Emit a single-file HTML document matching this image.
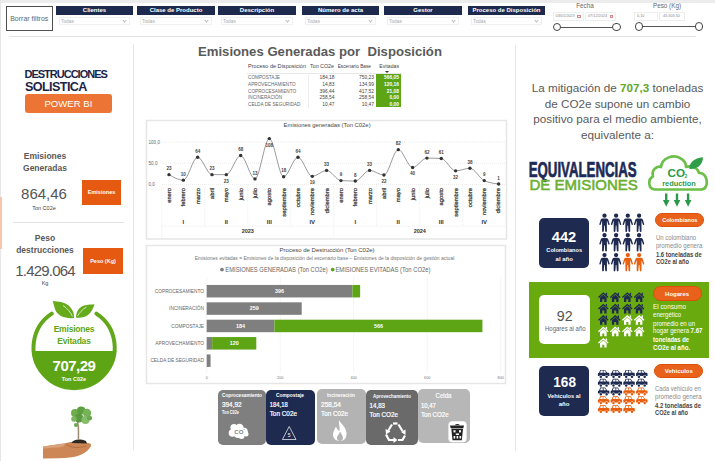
<!DOCTYPE html>
<html><head><meta charset="utf-8">
<style>
*{margin:0;padding:0;box-sizing:border-box}
html,body{width:715px;height:461px;overflow:hidden;background:#fff;font-family:"Liberation Sans",sans-serif}
.a{position:absolute}
#frameT{left:0;top:0;width:715px;height:2.5px;background:#ececec}
#frameL{left:0;top:0;width:1px;height:461px;background:#e6e6e6}
.btn{left:6px;top:6px;width:46.5px;height:25px;border:1.6px solid #505050;font-size:7px;color:#666;text-align:center;line-height:23.5px;white-space:nowrap}
.hdr{height:9px;background:#1d2a4e;color:#fff;font-size:6px;font-weight:bold;text-align:center;line-height:9px;white-space:nowrap;overflow:hidden}
.dd{height:8px;border:1px solid #f0f0f0;font-size:4.8px;color:#aaa;line-height:8px;padding-left:1px}
.dd i{position:absolute;right:3px;top:1px;width:3px;height:3px;border-right:1px solid #bbb;border-bottom:1px solid #bbb;transform:rotate(45deg)}
.hline{height:1px;background:#e3e3e3}
.vline{width:1px;background:#e6e6e6}
</style></head><body>
<div class="a" id="frameT"></div>
<div class="a" id="frameL"></div>
<div class="a" style="left:0;top:196.5px;width:1.5px;height:52px;background:#f7c4ae"></div>

<!-- top bar -->
<div class="a btn">Borrar filtros</div>
<div class="a hdr" style="left:56px;top:6px;width:77px">Clientes</div>
<div class="a dd" style="left:59px;top:17px;width:71px">Todas<i></i></div>
<div class="a hdr" style="left:137px;top:6px;width:78px">Clase de Producto</div>
<div class="a dd" style="left:140px;top:17px;width:72px">Todas<i></i></div>
<div class="a hdr" style="left:218px;top:6px;width:78px">Descripción</div>
<div class="a dd" style="left:221px;top:17px;width:72px">Todas<i></i></div>
<div class="a hdr" style="left:302px;top:6px;width:77px">Número de acta</div>
<div class="a dd" style="left:305px;top:17px;width:71px">Todas<i></i></div>
<div class="a hdr" style="left:384px;top:6px;width:78px">Gestor</div>
<div class="a dd" style="left:387px;top:17px;width:72px">Todas<i></i></div>
<div class="a hdr" style="left:468px;top:6px;width:77px">Proceso de Disposición</div>
<div class="a dd" style="left:471px;top:17px;width:71px">Todas<i></i></div>

<!--SLIC-->
<div class="a" style="left:570px;top:2px;width:30px;text-align:center;font-size:6.3px;color:#666">Fecha</div>
<div class="a" style="left:552.6px;top:12px;width:31.4px;height:9px;border:1px solid #eee;font-size:3.8px;color:#888;line-height:7px;padding-left:2px">03/01/2023<span style="position:absolute;right:2px;top:1.5px;width:3.5px;height:3.5px;border:0.8px solid #d88;border-top-width:1.4px"></span></div>
<div class="a" style="left:585px;top:12px;width:31.4px;height:9px;border:1px solid #eee;font-size:3.8px;color:#888;line-height:7px;padding-left:2px">07/12/2024<span style="position:absolute;right:2px;top:1.5px;width:3.5px;height:3.5px;border:0.8px solid #d88;border-top-width:1.4px"></span></div>
<div class="a" style="left:557px;top:26.5px;width:59px;height:1px;background:#555"></div>
<div class="a" style="left:552.5px;top:22.5px;width:8.5px;height:8.5px;border:1.2px solid #444;border-radius:50%;background:#fff"></div>
<div class="a" style="left:612px;top:22.5px;width:8.5px;height:8.5px;border:1.2px solid #444;border-radius:50%;background:#fff"></div>
<div class="a" style="left:652px;top:2px;width:30px;text-align:center;font-size:6.3px;color:#666;white-space:nowrap">Peso (Kg)</div>
<div class="a" style="left:634px;top:11.5px;width:24px;height:9px;border:1px solid #eee;font-size:3.8px;color:#888;line-height:7px;padding-left:2px">0,10</div>
<div class="a" style="left:659px;top:11.5px;width:25.5px;height:9px;border:1px solid #eee;font-size:3.8px;color:#888;line-height:7px;padding-left:3px">43.303,50</div>
<div class="a" style="left:639px;top:26px;width:60px;height:1px;background:#555"></div>
<div class="a" style="left:634.8px;top:22px;width:8.5px;height:8.5px;border:1.2px solid #444;border-radius:50%;background:#fff"></div>
<div class="a" style="left:694.5px;top:22px;width:8.5px;height:8.5px;border:1.2px solid #444;border-radius:50%;background:#fff"></div>
<!--/SLIC-->

<div class="a hline" style="left:9px;top:36px;width:687px"></div>
<div class="a vline" style="left:133px;top:44px;height:406px"></div>
<div class="a vline" style="left:515px;top:45px;height:406px"></div>


<!-- left panel -->
<div class="a" style="left:24.5px;top:68px;font-size:11px;font-weight:bold;color:#1b2548;letter-spacing:-1px;white-space:nowrap">DESTRUCCIONES</div>
<div class="a" style="left:25px;top:79.8px;font-size:12.6px;font-weight:bold;color:#1b2548;letter-spacing:-0.6px;white-space:nowrap">SOLISTICA</div>
<div class="a" style="left:25px;top:93.8px;width:86.8px;height:18.8px;background:#ec7535;border-radius:3px;color:#fff;font-size:9.6px;text-align:center;line-height:19px">POWER BI</div>

<div class="a" style="left:0;top:150px;width:90px;text-align:center;font-size:8.5px;font-weight:bold;color:#595959;line-height:12px">Emisiones<br>Generadas</div>
<div class="a" style="left:0;top:185px;width:88px;text-align:center;font-size:15px;color:#555;line-height:17px">864,46</div>
<div class="a" style="left:0;top:204.5px;width:88px;text-align:center;font-size:5.5px;color:#444">Ton C02e</div>
<div class="a" style="left:82px;top:180px;width:39px;height:25px;background:#e55a10;color:#fff;font-size:5.5px;font-weight:bold;text-align:center;line-height:25px">Emisiones</div>
<div class="a hline" style="left:13px;top:222px;width:111px"></div>
<div class="a" style="left:0;top:232px;width:90px;text-align:center;font-size:8.5px;font-weight:bold;color:#595959;line-height:12px">Peso<br>destrucciones</div>
<div class="a" style="left:0;top:262px;width:90px;text-align:center;font-size:15px;color:#555;line-height:17px;letter-spacing:-0.8px">1.429.064</div>
<div class="a" style="left:0;top:280px;width:90px;text-align:center;font-size:5.5px;color:#444">Kg</div>
<div class="a" style="left:83px;top:248px;width:40px;height:26px;background:#e55a10;color:#fff;font-size:5.5px;font-weight:bold;text-align:center;line-height:26px">Peso (Kg)</div>

<svg class="a" style="left:0;top:290px" width="133" height="171" viewBox="0 290 133 171">
 <defs><clipPath id="cc"><circle cx="74.1" cy="346.4" r="42.6"/></clipPath></defs>
 <path d="M51.8 313.6 A40.6 40.6 0 1 0 96.4 313.6" fill="none" stroke="#62a81a" stroke-width="4" stroke-linecap="round"/>
 <rect x="25" y="351" width="100" height="45" fill="#5ea516" clip-path="url(#cc)"/>
 <path d="M74 318 C66 319 57 316 55 309 C54 306 53.5 303 52.6 301 C58 301.5 66 302 70 307 C73 310 74.5 314 74 318 Z" fill="#66ab1c"/>
 <path d="M76 317.5 C76 312 79 307 84 305.5 C88 304.3 92 304.5 94.6 304.2 C93.5 307 92 312 88 315 C85 317.5 80 318 76 317.5 Z" fill="#66ab1c"/>
 <path d="M63 305.5 C67 308 70.5 312 72.5 316.5" stroke="#fff" stroke-width="0.7" fill="none"/>
 <path d="M86.5 307 C82 309.5 79.5 313 77.5 316" stroke="#fff" stroke-width="0.7" fill="none"/>
 <!-- tree in hand -->
 <g id="tree">
  <path d="M43 446.5 C50 445.5 57 444.5 64 443.5 C69 441.5 75 441.5 80 442.8 L88 443 C91.5 443.3 92 445.5 90 447.5 C87.5 451.5 82 455 76 456.5 C70 457.5 65 458 59 458.2 L43 458.5 Z" fill="#cd8757"/>
  <path d="M43 446.5 C50 445.5 57 444.5 64 443.5 C66 445 64 447 58 447.5 L43 448.5Z" fill="#d9a07a"/>
  <path d="M66 444 C70 447 76 449 86 446" stroke="#a9643a" stroke-width="0.8" fill="none"/>
  <path d="M71.5 443 C73 439.5 79 438.5 86 441 L87 443.5 Z" fill="#2e2722"/>
  <circle cx="83" cy="409" r="2" fill="#8cc070"/><circle cx="76" cy="425" r="2" fill="#6aa84d"/>
  <path d="M78.5 440 C78 434 79.5 430 77.5 421" stroke="#9c8a70" stroke-width="1.5" fill="none"/>
  <circle cx="75" cy="413" r="4" fill="#6fae4e"/>
  <circle cx="81" cy="410.5" r="4" fill="#5c9e40"/>
  <circle cx="87" cy="413" r="4.2" fill="#74b356"/>
  <circle cx="79" cy="418" r="4.5" fill="#5a9a3e"/>
  <circle cx="85.5" cy="420" r="4" fill="#86bd6a"/>
  <circle cx="74" cy="419" r="2.8" fill="#7cb560"/>
  <circle cx="89.5" cy="418" r="2.5" fill="#6aa84d"/>
 </g>
</svg>
<div class="a" style="left:34px;top:324px;width:80px;text-align:center;font-size:8.5px;font-weight:bold;color:#5ea516;line-height:11.5px;letter-spacing:-0.2px">Emisiones<br>Evitadas</div>
<div class="a" style="left:34px;top:357px;width:80px;text-align:center;font-size:15px;font-weight:bold;color:#fff;line-height:17px;letter-spacing:-0.5px">707,29</div>
<div class="a" style="left:34px;top:376px;width:80px;text-align:center;font-size:5.5px;font-weight:bold;color:#fff">Ton C02e</div>

<!-- center title & table -->
<div class="a" style="left:198px;top:43.7px;font-size:13.15px;font-weight:bold;color:#5a5a5a;white-space:pre">Emisiones Generadas por  Disposición</div>
<!--TABLE-->
<div class="a" style="left:385px;top:70.5px;width:0;height:0;border-left:2px solid transparent;border-right:2px solid transparent;border-top:2px solid #333"></div>
<div class="a" style="left:247px;top:72.5px;width:155px;height:1px;background:#e8e8e8"></div>
<div class="a" style="left:308px;top:73px;width:1px;height:35px;background:#eee"></div>
<div class="a" style="left:376px;top:73.8px;width:25.2px;height:33.6px;background:#5ea516"></div>
<svg class="a" style="left:0;top:0" width="715" height="461" viewBox="0 0 715 461" font-family="Liberation Sans">
 <text x="248" y="68" font-size="5.6" fill="#444" textLength="58" lengthAdjust="spacingAndGlyphs">Proceso de Disposición</text>
 <text x="310" y="68" font-size="5.6" fill="#444" textLength="24" lengthAdjust="spacingAndGlyphs">Ton CO2e</text>
 <text x="337.7" y="68" font-size="5.6" fill="#444" textLength="33.3" lengthAdjust="spacingAndGlyphs">Escenario Base</text>
 <text x="379.3" y="68" font-size="5.6" fill="#444" textLength="19.7" lengthAdjust="spacingAndGlyphs">Evitadas</text>
</svg>
<div class="a" style="left:248px;top:75.30px;width:151px;height:6.65px;line-height:6.65px;font-size:4.7px;color:#666;white-space:nowrap">COMPOSTAJE<span style="position:absolute;right:64.5px;color:#444;font-size:4.9px">184,18</span><span style="position:absolute;right:25px;color:#444;font-size:4.9px">750,23</span><span style="position:absolute;right:0;color:#fff;font-weight:bold;font-size:4.9px">566,05</span></div>
<div class="a" style="left:248px;top:81.95px;width:151px;height:6.65px;line-height:6.65px;font-size:4.7px;color:#666;white-space:nowrap">APROVECHAMIENTO<span style="position:absolute;right:64.5px;color:#444;font-size:4.9px">14,83</span><span style="position:absolute;right:25px;color:#444;font-size:4.9px">134,99</span><span style="position:absolute;right:0;color:#fff;font-weight:bold;font-size:4.9px">120,16</span></div>
<div class="a" style="left:248px;top:88.60px;width:151px;height:6.65px;line-height:6.65px;font-size:4.7px;color:#666;white-space:nowrap">COPROCESAMIENTO<span style="position:absolute;right:64.5px;color:#444;font-size:4.9px">396,44</span><span style="position:absolute;right:25px;color:#444;font-size:4.9px">417,52</span><span style="position:absolute;right:0;color:#fff;font-weight:bold;font-size:4.9px">21,08</span></div>
<div class="a" style="left:248px;top:95.25px;width:151px;height:6.65px;line-height:6.65px;font-size:4.7px;color:#666;white-space:nowrap">INCINERACIÓN<span style="position:absolute;right:64.5px;color:#444;font-size:4.9px">258,54</span><span style="position:absolute;right:25px;color:#444;font-size:4.9px">258,54</span><span style="position:absolute;right:0;color:#fff;font-weight:bold;font-size:4.9px">0,00</span></div>
<div class="a" style="left:248px;top:101.90px;width:151px;height:6.65px;line-height:6.65px;font-size:4.7px;color:#666;white-space:nowrap">CELDA DE SEGURIDAD<span style="position:absolute;right:64.5px;color:#444;font-size:4.9px">10,47</span><span style="position:absolute;right:25px;color:#444;font-size:4.9px">10,47</span><span style="position:absolute;right:0;color:#fff;font-weight:bold;font-size:4.9px">0,00</span></div>
<!--/TABLE-->
<!--LINE--><svg class="a" style="left:0;top:0" width="715" height="461" viewBox="0 0 715 461" font-family="Liberation Sans">
<rect x="146.5" y="120.5" width="360" height="118.5" fill="#fff" stroke="#e6e6e6" stroke-width="1.5"/>
<text x="283.6" y="127.3" font-size="5.8" fill="#444" textLength="87" lengthAdjust="spacingAndGlyphs">Emisiones generadas (Ton C02e)</text>
<line x1="162" y1="142.00" x2="505" y2="142.00" stroke="#d8d8d8" stroke-width="0.5" stroke-dasharray="1 1"/>
<text x="148.5" y="143.80" font-size="4.6" fill="#666">100,0</text>
<line x1="162" y1="163.20" x2="505" y2="163.20" stroke="#d8d8d8" stroke-width="0.5" stroke-dasharray="1 1"/>
<text x="148.5" y="165.00" font-size="4.6" fill="#666">50,0</text>
<line x1="162" y1="184.40" x2="505" y2="184.40" stroke="#d8d8d8" stroke-width="0.5" stroke-dasharray="1 1"/>
<text x="148.5" y="186.20" font-size="4.6" fill="#666">0,0</text>
<line x1="161.8" y1="184.4" x2="161.8" y2="238" stroke="#d8d8d8" stroke-width="0.5" stroke-dasharray="1 1"/>
<line x1="204.82" y1="184.4" x2="204.82" y2="226.2" stroke="#d8d8d8" stroke-width="0.5" stroke-dasharray="1 1"/>
<line x1="247.81" y1="184.4" x2="247.81" y2="226.2" stroke="#d8d8d8" stroke-width="0.5" stroke-dasharray="1 1"/>
<line x1="290.81" y1="184.4" x2="290.81" y2="226.2" stroke="#d8d8d8" stroke-width="0.5" stroke-dasharray="1 1"/>
<line x1="333.79" y1="184.4" x2="333.79" y2="238" stroke="#d8d8d8" stroke-width="0.5" stroke-dasharray="1 1"/>
<line x1="376.78" y1="184.4" x2="376.78" y2="226.2" stroke="#d8d8d8" stroke-width="0.5" stroke-dasharray="1 1"/>
<line x1="419.77" y1="184.4" x2="419.77" y2="226.2" stroke="#d8d8d8" stroke-width="0.5" stroke-dasharray="1 1"/>
<line x1="462.76" y1="184.4" x2="462.76" y2="226.2" stroke="#d8d8d8" stroke-width="0.5" stroke-dasharray="1 1"/>
<line x1="161.8" y1="226.2" x2="505" y2="226.2" stroke="#d8d8d8" stroke-width="0.5" stroke-dasharray="1 1"/>
<path d="M169.00 174.65 C173.78 177.40 178.55 180.16 183.33 180.16 C188.11 180.16 192.88 157.26 197.66 157.26 C202.44 157.26 207.21 174.65 211.99 174.65 C216.77 174.65 221.54 174.65 226.32 174.65 C231.10 174.65 235.87 155.57 240.65 155.57 C245.43 155.57 250.20 178.89 254.98 178.89 C259.76 178.89 264.53 138.61 269.31 138.61 C274.09 138.61 278.86 176.77 283.64 176.77 C288.42 176.77 293.19 157.26 297.97 157.26 C302.75 157.26 307.52 176.34 312.30 176.34 C317.08 176.34 321.85 170.41 326.63 170.41 C331.41 170.41 336.18 180.30 340.96 180.58 C345.74 180.87 350.51 181.01 355.29 181.01 C360.07 181.01 364.84 170.41 369.62 170.41 C374.40 170.41 379.17 175.07 383.95 175.07 C388.73 175.07 393.50 149.63 398.28 149.63 C403.06 149.63 407.83 167.44 412.61 167.44 C417.39 167.44 422.16 158.11 426.94 158.11 C431.72 158.11 436.49 158.25 441.27 158.54 C446.05 158.82 450.82 170.83 455.60 170.83 C460.38 170.83 465.15 168.29 469.93 168.29 C474.71 168.29 479.48 178.32 484.26 180.58 C489.04 182.85 493.81 183.41 498.59 183.98" fill="none" stroke="#555" stroke-width="0.6"/>
<circle cx="169.00" cy="174.65" r="1.7" fill="#333"/>
<text x="169.00" y="170.35" font-size="4.5" font-weight="bold" fill="#444" text-anchor="middle">23</text>
<text transform="translate(170.90 188) rotate(-90)" font-size="5.8" fill="#3a3a3a" stroke="#3a3a3a" stroke-width="0.25" text-anchor="end">enero</text>
<circle cx="183.33" cy="180.16" r="1.7" fill="#333"/>
<text x="183.33" y="175.86" font-size="4.5" font-weight="bold" fill="#444" text-anchor="middle">10</text>
<text transform="translate(185.23 188) rotate(-90)" font-size="5.8" fill="#3a3a3a" stroke="#3a3a3a" stroke-width="0.25" text-anchor="end">febrero</text>
<circle cx="197.66" cy="157.26" r="1.7" fill="#333"/>
<text x="197.66" y="152.96" font-size="4.5" font-weight="bold" fill="#444" text-anchor="middle">64</text>
<text transform="translate(199.56 188) rotate(-90)" font-size="5.8" fill="#3a3a3a" stroke="#3a3a3a" stroke-width="0.25" text-anchor="end">marzo</text>
<circle cx="211.99" cy="174.65" r="1.7" fill="#333"/>
<text x="211.99" y="170.35" font-size="4.5" font-weight="bold" fill="#444" text-anchor="middle">23</text>
<text transform="translate(213.89 188) rotate(-90)" font-size="5.8" fill="#3a3a3a" stroke="#3a3a3a" stroke-width="0.25" text-anchor="end">abril</text>
<circle cx="226.32" cy="174.65" r="1.7" fill="#333"/>
<text x="226.32" y="182.65" font-size="4.5" font-weight="bold" fill="#444" text-anchor="middle">23</text>
<text transform="translate(228.22 188) rotate(-90)" font-size="5.8" fill="#3a3a3a" stroke="#3a3a3a" stroke-width="0.25" text-anchor="end">mayo</text>
<circle cx="240.65" cy="155.57" r="1.7" fill="#333"/>
<text x="240.65" y="151.27" font-size="4.5" font-weight="bold" fill="#444" text-anchor="middle">68</text>
<text transform="translate(242.55 188) rotate(-90)" font-size="5.8" fill="#3a3a3a" stroke="#3a3a3a" stroke-width="0.25" text-anchor="end">junio</text>
<circle cx="254.98" cy="178.89" r="1.7" fill="#333"/>
<text x="254.98" y="174.59" font-size="4.5" font-weight="bold" fill="#444" text-anchor="middle">13</text>
<text transform="translate(256.88 188) rotate(-90)" font-size="5.8" fill="#3a3a3a" stroke="#3a3a3a" stroke-width="0.25" text-anchor="end">julio</text>
<circle cx="269.31" cy="138.61" r="1.7" fill="#333"/>
<text x="269.31" y="146.61" font-size="4.5" font-weight="bold" fill="#444" text-anchor="middle">108</text>
<text transform="translate(271.21 188) rotate(-90)" font-size="5.8" fill="#3a3a3a" stroke="#3a3a3a" stroke-width="0.25" text-anchor="end">agosto</text>
<circle cx="283.64" cy="176.77" r="1.7" fill="#333"/>
<text x="283.64" y="172.47" font-size="4.5" font-weight="bold" fill="#444" text-anchor="middle">18</text>
<text transform="translate(285.54 188) rotate(-90)" font-size="5.8" fill="#3a3a3a" stroke="#3a3a3a" stroke-width="0.25" text-anchor="end">septiembre</text>
<circle cx="297.97" cy="157.26" r="1.7" fill="#333"/>
<text x="297.97" y="152.96" font-size="4.5" font-weight="bold" fill="#444" text-anchor="middle">64</text>
<text transform="translate(299.87 188) rotate(-90)" font-size="5.8" fill="#3a3a3a" stroke="#3a3a3a" stroke-width="0.25" text-anchor="end">octubre</text>
<circle cx="312.30" cy="176.34" r="1.7" fill="#333"/>
<text x="312.30" y="184.34" font-size="4.5" font-weight="bold" fill="#444" text-anchor="middle">19</text>
<text transform="translate(314.20 188) rotate(-90)" font-size="5.8" fill="#3a3a3a" stroke="#3a3a3a" stroke-width="0.25" text-anchor="end">noviembre</text>
<circle cx="326.63" cy="170.41" r="1.7" fill="#333"/>
<text x="326.63" y="166.11" font-size="4.5" font-weight="bold" fill="#444" text-anchor="middle">33</text>
<text transform="translate(328.53 188) rotate(-90)" font-size="5.8" fill="#3a3a3a" stroke="#3a3a3a" stroke-width="0.25" text-anchor="end">diciembre</text>
<circle cx="340.96" cy="180.58" r="1.7" fill="#333"/>
<text x="340.96" y="176.28" font-size="4.5" font-weight="bold" fill="#444" text-anchor="middle">9</text>
<text transform="translate(342.86 188) rotate(-90)" font-size="5.8" fill="#3a3a3a" stroke="#3a3a3a" stroke-width="0.25" text-anchor="end">enero</text>
<circle cx="355.29" cy="181.01" r="1.7" fill="#333"/>
<text x="355.29" y="176.71" font-size="4.5" font-weight="bold" fill="#444" text-anchor="middle">8</text>
<text transform="translate(357.19 188) rotate(-90)" font-size="5.8" fill="#3a3a3a" stroke="#3a3a3a" stroke-width="0.25" text-anchor="end">febrero</text>
<circle cx="369.62" cy="170.41" r="1.7" fill="#333"/>
<text x="369.62" y="166.11" font-size="4.5" font-weight="bold" fill="#444" text-anchor="middle">33</text>
<text transform="translate(371.52 188) rotate(-90)" font-size="5.8" fill="#3a3a3a" stroke="#3a3a3a" stroke-width="0.25" text-anchor="end">marzo</text>
<circle cx="383.95" cy="175.07" r="1.7" fill="#333"/>
<text x="383.95" y="183.07" font-size="4.5" font-weight="bold" fill="#444" text-anchor="middle">22</text>
<text transform="translate(385.85 188) rotate(-90)" font-size="5.8" fill="#3a3a3a" stroke="#3a3a3a" stroke-width="0.25" text-anchor="end">abril</text>
<circle cx="398.28" cy="149.63" r="1.7" fill="#333"/>
<text x="398.28" y="145.33" font-size="4.5" font-weight="bold" fill="#444" text-anchor="middle">82</text>
<text transform="translate(400.18 188) rotate(-90)" font-size="5.8" fill="#3a3a3a" stroke="#3a3a3a" stroke-width="0.25" text-anchor="end">mayo</text>
<circle cx="412.61" cy="167.44" r="1.7" fill="#333"/>
<text x="412.61" y="175.44" font-size="4.5" font-weight="bold" fill="#444" text-anchor="middle">40</text>
<text transform="translate(414.51 188) rotate(-90)" font-size="5.8" fill="#3a3a3a" stroke="#3a3a3a" stroke-width="0.25" text-anchor="end">junio</text>
<circle cx="426.94" cy="158.11" r="1.7" fill="#333"/>
<text x="426.94" y="153.81" font-size="4.5" font-weight="bold" fill="#444" text-anchor="middle">62</text>
<text transform="translate(428.84 188) rotate(-90)" font-size="5.8" fill="#3a3a3a" stroke="#3a3a3a" stroke-width="0.25" text-anchor="end">julio</text>
<circle cx="441.27" cy="158.54" r="1.7" fill="#333"/>
<text x="441.27" y="154.24" font-size="4.5" font-weight="bold" fill="#444" text-anchor="middle">61</text>
<text transform="translate(443.17 188) rotate(-90)" font-size="5.8" fill="#3a3a3a" stroke="#3a3a3a" stroke-width="0.25" text-anchor="end">agosto</text>
<circle cx="455.60" cy="170.83" r="1.7" fill="#333"/>
<text x="455.60" y="178.83" font-size="4.5" font-weight="bold" fill="#444" text-anchor="middle">32</text>
<text transform="translate(457.50 188) rotate(-90)" font-size="5.8" fill="#3a3a3a" stroke="#3a3a3a" stroke-width="0.25" text-anchor="end">septiembre</text>
<circle cx="469.93" cy="168.29" r="1.7" fill="#333"/>
<text x="469.93" y="163.99" font-size="4.5" font-weight="bold" fill="#444" text-anchor="middle">38</text>
<text transform="translate(471.83 188) rotate(-90)" font-size="5.8" fill="#3a3a3a" stroke="#3a3a3a" stroke-width="0.25" text-anchor="end">octubre</text>
<circle cx="484.26" cy="180.58" r="1.7" fill="#333"/>
<text x="484.26" y="176.28" font-size="4.5" font-weight="bold" fill="#444" text-anchor="middle">9</text>
<text transform="translate(486.16 188) rotate(-90)" font-size="5.8" fill="#3a3a3a" stroke="#3a3a3a" stroke-width="0.25" text-anchor="end">noviembre</text>
<circle cx="498.59" cy="183.98" r="1.7" fill="#333"/>
<text x="498.59" y="179.68" font-size="4.5" font-weight="bold" fill="#444" text-anchor="middle">1</text>
<text transform="translate(500.49 188) rotate(-90)" font-size="5.8" fill="#3a3a3a" stroke="#3a3a3a" stroke-width="0.25" text-anchor="end">diciembre</text>
<text x="183.33" y="224.2" font-size="6" fill="#333" font-weight="bold" text-anchor="middle">I</text>
<text x="226.32" y="224.2" font-size="6" fill="#333" font-weight="bold" text-anchor="middle">II</text>
<text x="269.31" y="224.2" font-size="6" fill="#333" font-weight="bold" text-anchor="middle">III</text>
<text x="312.30" y="224.2" font-size="6" fill="#333" font-weight="bold" text-anchor="middle">IV</text>
<text x="355.29" y="224.2" font-size="6" fill="#333" font-weight="bold" text-anchor="middle">I</text>
<text x="398.28" y="224.2" font-size="6" fill="#333" font-weight="bold" text-anchor="middle">II</text>
<text x="441.27" y="224.2" font-size="6" fill="#333" font-weight="bold" text-anchor="middle">III</text>
<text x="484.26" y="224.2" font-size="6" fill="#333" font-weight="bold" text-anchor="middle">IV</text>
<text x="247.81" y="233.3" font-size="5.5" fill="#333" font-weight="bold" text-anchor="middle">2023</text>
<text x="419.77" y="233.3" font-size="5.5" fill="#333" font-weight="bold" text-anchor="middle">2024</text>
</svg><!--/LINE-->
<!--BAR--><svg class="a" style="left:0;top:0" width="715" height="461" viewBox="0 0 715 461" font-family="Liberation Sans">
<rect x="146.5" y="245.5" width="359" height="138" fill="#fff" stroke="#e6e6e6" stroke-width="1.5"/>
<text x="279.6" y="252.2" font-size="6" fill="#444" textLength="95" lengthAdjust="spacingAndGlyphs">Proceso de Destrucción (Ton C02e)</text>
<text x="194.7" y="260.3" font-size="4.6" fill="#777" textLength="259.6" lengthAdjust="spacingAndGlyphs">Emisiones evitadas = Emisiones de la disposición del escenario base – Emisiones de la disposición de gestión actual</text>
<circle cx="222" cy="269.6" r="1.9" fill="#7f7f7f"/>
<text x="225.3" y="272.2" font-size="7" fill="#666" textLength="102.5" lengthAdjust="spacingAndGlyphs">EMISIONES GENERADAS (Ton CO2e)</text>
<circle cx="332.7" cy="269.6" r="1.9" fill="#5ea516"/>
<text x="335.4" y="272.2" font-size="7" fill="#666" textLength="95.2" lengthAdjust="spacingAndGlyphs">EMISIONES EVITADAS (Ton CO2e)</text>
<line x1="206.70" y1="277.5" x2="206.70" y2="373" stroke="#d6d6d6" stroke-width="0.5" stroke-dasharray="1 1"/>
<text x="206.70" y="378.8" font-size="3.8" fill="#777" text-anchor="middle">0</text>
<line x1="280.20" y1="277.5" x2="280.20" y2="373" stroke="#d6d6d6" stroke-width="0.5" stroke-dasharray="1 1"/>
<text x="280.20" y="378.8" font-size="3.8" fill="#777" text-anchor="middle">200</text>
<line x1="353.70" y1="277.5" x2="353.70" y2="373" stroke="#d6d6d6" stroke-width="0.5" stroke-dasharray="1 1"/>
<text x="353.70" y="378.8" font-size="3.8" fill="#777" text-anchor="middle">400</text>
<line x1="427.20" y1="277.5" x2="427.20" y2="373" stroke="#d6d6d6" stroke-width="0.5" stroke-dasharray="1 1"/>
<text x="427.20" y="378.8" font-size="3.8" fill="#777" text-anchor="middle">600</text>
<line x1="500.70" y1="277.5" x2="500.70" y2="373" stroke="#d6d6d6" stroke-width="0.5" stroke-dasharray="1 1"/>
<text x="500.70" y="378.8" font-size="3.8" fill="#777" text-anchor="middle">800</text>
<text x="204" y="292.90" font-size="4.8" fill="#666" text-anchor="end">COPROCESAMIENTO</text>
<rect x="206.70" y="284.95" width="145.69" height="12.5" fill="#7f7f7f"/>
<rect x="352.39" y="284.95" width="7.75" height="12.5" fill="#5ea516"/>
<text x="279.55" y="293.10" font-size="5.4" font-weight="bold" fill="#fff" text-anchor="middle">396</text>
<text x="204" y="310.27" font-size="4.8" fill="#666" text-anchor="end">INCINERACIÓN</text>
<rect x="206.70" y="302.32" width="95.01" height="12.5" fill="#7f7f7f"/>
<text x="254.21" y="310.47" font-size="5.4" font-weight="bold" fill="#fff" text-anchor="middle">259</text>
<text x="204" y="327.64" font-size="4.8" fill="#666" text-anchor="end">COMPOSTAJE</text>
<rect x="206.70" y="319.69" width="67.69" height="12.5" fill="#7f7f7f"/>
<rect x="274.39" y="319.69" width="208.02" height="12.5" fill="#5ea516"/>
<text x="240.54" y="327.84" font-size="5.4" font-weight="bold" fill="#fff" text-anchor="middle">184</text>
<text x="378.40" y="327.84" font-size="5.4" font-weight="bold" fill="#fff" text-anchor="middle">566</text>
<text x="204" y="345.01" font-size="4.8" fill="#666" text-anchor="end">APROVECHAMIENTO</text>
<rect x="206.70" y="337.06" width="5.45" height="12.5" fill="#7f7f7f"/>
<rect x="212.15" y="337.06" width="44.16" height="12.5" fill="#5ea516"/>
<text x="234.23" y="345.21" font-size="5.4" font-weight="bold" fill="#fff" text-anchor="middle">120</text>
<text x="204" y="362.38" font-size="4.8" fill="#666" text-anchor="end">CELDA DE SEGURIDAD</text>
<rect x="206.70" y="354.43" width="3.85" height="12.5" fill="#7f7f7f"/>
</svg><!--/BAR-->
<!--CARDS-->
<div class="a" style="left:217.5px;top:389.5px;width:48px;height:55.5px;background:#7f7f7f;border-radius:5px"></div>
<div class="a" style="left:265.5px;top:389.5px;width:49px;height:55.5px;background:#1e2a50;border-radius:5px"></div>
<div class="a" style="left:316.5px;top:388.5px;width:49px;height:55.5px;background:#b3b3b3;border-radius:5px"></div>
<div class="a" style="left:366px;top:390px;width:51.5px;height:54.5px;background:#6a6a6a;border-radius:5px"></div>
<div class="a" style="left:417.5px;top:389px;width:52.5px;height:54px;background:#b7b7b7;border-radius:5px"></div>
<svg class="a" style="left:0;top:0" width="715" height="461" viewBox="0 0 715 461" font-family="Liberation Sans">
 <text x="222" y="397" font-size="4.6" font-weight="bold" fill="#fff" textLength="40" lengthAdjust="spacingAndGlyphs">Coprocesamiento</text>
 <text x="222" y="406.8" font-size="6.4" fill="#fff" stroke="#fff" stroke-width="0.2" textLength="19.5" lengthAdjust="spacingAndGlyphs">394,92</text>
 <text x="222" y="413.8" font-size="4.8" font-weight="bold" fill="#fff" textLength="17" lengthAdjust="spacingAndGlyphs">Ton C02e</text>
 <text x="290" y="397" font-size="4.6" font-weight="bold" fill="#fff" text-anchor="middle" textLength="28" lengthAdjust="spacingAndGlyphs">Compostaje</text>
 <text x="269.7" y="406.8" font-size="6.4" fill="#fff" stroke="#fff" stroke-width="0.2" textLength="18" lengthAdjust="spacingAndGlyphs">184,18</text>
 <text x="269.7" y="415.8" font-size="6.4" fill="#fff" stroke="#fff" stroke-width="0.2" textLength="27.3" lengthAdjust="spacingAndGlyphs">Ton C02e</text>
 <text x="341" y="397" font-size="4.6" font-weight="bold" fill="#fff" text-anchor="middle" textLength="28" lengthAdjust="spacingAndGlyphs">Incineración</text>
 <text x="321" y="406.8" font-size="6.4" fill="#fff" stroke="#fff" stroke-width="0.2" textLength="20" lengthAdjust="spacingAndGlyphs">258,54</text>
 <text x="321" y="416.2" font-size="6.4" fill="#fff" stroke="#fff" stroke-width="0.2" textLength="27" lengthAdjust="spacingAndGlyphs">Ton C02e</text>
 <text x="392" y="397.6" font-size="4.6" font-weight="bold" fill="#fff" text-anchor="middle" textLength="38" lengthAdjust="spacingAndGlyphs">Aprovechamiento</text>
 <text x="369.6" y="407.7" font-size="6.4" fill="#fff" stroke="#fff" stroke-width="0.2" textLength="15.4" lengthAdjust="spacingAndGlyphs">14,83</text>
 <text x="369.6" y="416.9" font-size="6.4" fill="#fff" stroke="#fff" stroke-width="0.2" textLength="28.4" lengthAdjust="spacingAndGlyphs">Ton CO2e</text>
 <text x="443.5" y="398.3" font-size="6.6" fill="#fff" stroke="#fff" stroke-width="0.15" text-anchor="middle" textLength="16" lengthAdjust="spacingAndGlyphs">Celda</text>
 <text x="420.9" y="408" font-size="6.4" fill="#fff" stroke="#fff" stroke-width="0.2" textLength="15" lengthAdjust="spacingAndGlyphs">10,47</text>
 <text x="420.9" y="417.3" font-size="6.4" fill="#fff" stroke="#fff" stroke-width="0.2" textLength="27.7" lengthAdjust="spacingAndGlyphs">Ton CO2e</text>
 <!-- cloud -->
 <g fill="#fff">
  <circle cx="234" cy="427.5" r="3.6"/><circle cx="239.5" cy="428" r="4.2"/><circle cx="244" cy="431.5" r="3.8"/><circle cx="232.5" cy="433" r="3.8"/><circle cx="238" cy="434" r="4"/><circle cx="241.5" cy="436" r="3"/><circle cx="246" cy="434" r="2.5"/>
 </g>
 <text x="238.8" y="433.6" font-size="6" font-weight="bold" fill="#858585" text-anchor="middle">CO</text>
 <text x="243.6" y="430" font-size="2.5" fill="#858585">2</text>
 <!-- triangle recycle -->
 <g fill="none" stroke="#fff" stroke-width="0.7">
  <path d="M289.2 426.5 L296 439.5 L282.4 439.5 Z"/>
 </g>
 <text x="289.2" y="437" font-size="5" fill="#fff" text-anchor="middle">5</text>
 <!-- flame -->
 <path fill="#fff" d="M339 420 C341 424 346 427 346.5 433 C347 438 344 441 340 441 C336 441 333 438.5 333 434.5 C333 431 335 429 336 426.5 C337 429 338 430.5 339.5 431 C340 427 338.5 423.5 339 420 Z"/>
 <path fill="#b3b3b3" d="M340 441 C337.5 441 336.5 439 337 437 C337.5 435 339.5 434 340 431.5 C341.5 434 343 436 343 438 C343 440 341.5 441 340 441Z"/>
 <!-- recycle -->
 <g fill="none" stroke="#fff" stroke-width="2.2" stroke-linejoin="round">
  <path d="M392 424.5 L388 431"/>
  <path d="M398.5 424.5 L402.5 431"/>
  <path d="M386 434.5 L389 440 L394 440"/>
  <path d="M398 440 L402.5 440 L405 435.5"/>
  <path d="M393 423.5 L397.5 423.5"/>
 </g>
 <g fill="#fff">
  <path d="M385.5 429 L390.5 431.5 L386 434.5Z"/>
  <path d="M405.5 429.5 L401 432 L405.5 435Z"/>
  <path d="M393.5 437 L397.5 440 L393.5 443Z"/>
 </g>
 <!-- trash -->
 <rect x="448.4" y="421.3" width="18.2" height="21" rx="4" fill="#fff"/>
 <path d="M454.5 425.2 Q457.3 422.6 460.2 425.2 Z" fill="#222"/>
 <path d="M450 425.5 H464 L463.3 428.3 H450.7 Z" fill="#222"/>
 <path d="M451.3 428.8 H463 L461.8 440.3 H452.5 Z" fill="#222"/>
 <g fill="#fff">
  <rect x="453.5" y="430.2" width="2" height="2.2"/><rect x="459" y="430.2" width="2" height="2.2"/>
  <rect x="455.8" y="433.5" width="3.2" height="1.5"/>
  <rect x="453.6" y="436" width="1.6" height="2.5"/><rect x="456.6" y="436" width="1.6" height="2.5"/><rect x="459.5" y="436" width="1.6" height="2.5"/>
 </g>
</svg>
<!--/CARDS-->
<!--RIGHT-->
<div class="a" style="left:517px;top:80.3px;width:201px;text-align:center;font-size:11.7px;line-height:15.4px;color:#5a5a5a;white-space:nowrap">La mitigación de <b style="color:#62a824">707,3</b> toneladas<br>de CO2e supone un cambio<br>positivo para el medio ambiente,<br>equivalente a:</div>
<div class="a" style="left:529px;top:281.8px;width:180.2px;height:76px;background:#69ab0e"></div>
<div class="a" style="left:538.8px;top:218px;width:50.4px;height:50px;background:#1e2a50;border-radius:5px"></div>
<div class="a" style="left:538.8px;top:294.7px;width:50.8px;height:49.7px;background:#fff;border-radius:5px"></div>
<div class="a" style="left:539px;top:366.3px;width:50px;height:50px;background:#1e2a50;border-radius:5px"></div>
<div class="a" style="left:655.4px;top:212.5px;width:48.9px;height:14.4px;background:#e8621c;border:1px solid #df4f06;border-radius:8px"></div>
<div class="a" style="left:652.6px;top:286px;width:49.1px;height:14.6px;background:#e8621c;border:1px solid #df4f06;border-radius:8px"></div>
<div class="a" style="left:654.2px;top:363.7px;width:49.2px;height:14.5px;background:#e8621c;border:1px solid #df4f06;border-radius:8px"></div>
<svg class="a" style="left:0;top:0" width="715" height="461" viewBox="0 0 715 461" font-family="Liberation Sans">
<defs>
<path id="person" d="M5 0 A2.15 2.15 0 1 1 5 4.3 A2.15 2.15 0 1 1 5 0Z M3.2 4.9 H6.8 Q8.2 4.9 8.7 6.1 L10.1 10.5 Q10.3 11.3 9.6 11.5 Q9 11.6 8.8 11 L7.6 7.6 L7.4 7.6 V17.7 Q7.4 18.5 6.6 18.5 Q5.8 18.5 5.7 17.7 L5.3 12 H4.7 L4.3 17.7 Q4.2 18.5 3.4 18.5 Q2.6 18.5 2.6 17.7 V7.6 L2.4 7.6 L1.2 11 Q1 11.6 0.4 11.5 Q-0.3 11.3 -0.1 10.5 L1.3 6.1 Q1.8 4.9 3.2 4.9Z"/>
<path id="house" d="M5 0.3 L10.3 5 L9.4 6 L5 2.1 L0.6 6 L-0.3 5 Z M7.4 0.8 H8.8 V3.4 L7.4 2.2Z M1.7 5.6 L5 2.8 L8.3 5.6 V10 H6 V7.2 H4 V10 H1.7Z"/>
<path id="car" d="M1.2 3.2 L2.3 0.3 H7.2 L9.3 3.2 H10.6 Q11.5 3.3 11.5 4.2 V6.4 H10.2 A1.6 1.6 0 0 0 7.2 6.4 H4.4 A1.6 1.6 0 0 0 1.4 6.4 H0 V4.2 Q0 3.2 1.2 3.2Z M2.9 1 L2.2 3.1 H4.9 V1Z M5.6 1 V3.1 H8.3 L6.9 1Z M2.9 5.8 A1.25 1.25 0 1 1 2.9 8.3 A1.25 1.25 0 1 1 2.9 5.8Z M8.7 5.8 A1.25 1.25 0 1 1 8.7 8.3 A1.25 1.25 0 1 1 8.7 5.8Z" fill-rule="evenodd"/>
</defs>
<use href="#person" x="599.50" y="213.50" fill="#1e2a50"/>
<use href="#person" x="611.10" y="213.50" fill="#1e2a50"/>
<use href="#person" x="622.80" y="213.50" fill="#1e2a50"/>
<use href="#person" x="634.10" y="213.50" fill="#1e2a50"/>
<use href="#person" x="599.50" y="233.10" fill="#1e2a50"/>
<use href="#person" x="611.10" y="233.10" fill="#1e2a50"/>
<use href="#person" x="622.80" y="233.10" fill="#1e2a50"/>
<use href="#person" x="634.10" y="233.10" fill="#1e2a50"/>
<use href="#person" x="599.50" y="252.90" fill="#1e2a50"/>
<use href="#person" x="611.10" y="252.90" fill="#1e2a50"/>
<use href="#person" x="622.80" y="252.90" fill="#e8600f"/>
<use href="#person" x="634.10" y="252.90" fill="#e8600f"/>
<use href="#house" x="598.30" y="292.00" fill="#1e2a50"/>
<use href="#house" x="610.20" y="292.00" fill="#1e2a50"/>
<use href="#house" x="622.30" y="292.00" fill="#1e2a50"/>
<use href="#house" x="634.10" y="292.00" fill="#1e2a50"/>
<use href="#house" x="598.30" y="303.40" fill="#1e2a50"/>
<use href="#house" x="610.20" y="303.40" fill="#1e2a50"/>
<use href="#house" x="622.30" y="303.40" fill="#1e2a50"/>
<use href="#house" x="634.10" y="303.40" fill="#1e2a50"/>
<use href="#house" x="598.30" y="314.80" fill="#1e2a50"/>
<use href="#house" x="610.20" y="314.80" fill="#1e2a50"/>
<use href="#house" x="622.30" y="314.80" fill="#fff"/>
<use href="#house" x="634.10" y="314.80" fill="#fff"/>
<use href="#house" x="598.30" y="326.20" fill="#fff"/>
<use href="#house" x="610.20" y="326.20" fill="#fff"/>
<use href="#house" x="622.30" y="326.20" fill="#fff"/>
<use href="#house" x="634.10" y="326.20" fill="#fff"/>
<use href="#house" x="598.30" y="337.60" fill="#fff"/>
<use href="#car" x="597.90" y="369.60" fill="#1e2a50"/>
<use href="#car" x="610.60" y="369.60" fill="#1e2a50"/>
<use href="#car" x="623.30" y="369.60" fill="#1e2a50"/>
<use href="#car" x="636.00" y="369.60" fill="#1e2a50"/>
<use href="#car" x="597.90" y="378.40" fill="#1e2a50"/>
<use href="#car" x="610.60" y="378.40" fill="#1e2a50"/>
<use href="#car" x="623.30" y="378.40" fill="#1e2a50"/>
<use href="#car" x="636.00" y="378.40" fill="#1e2a50"/>
<use href="#car" x="597.90" y="387.20" fill="#1e2a50"/>
<use href="#car" x="610.60" y="387.20" fill="#1e2a50"/>
<use href="#car" x="623.30" y="387.20" fill="#e8600f"/>
<use href="#car" x="636.00" y="387.20" fill="#e8600f"/>
<use href="#car" x="597.90" y="396.00" fill="#e8600f"/>
<use href="#car" x="610.60" y="396.00" fill="#e8600f"/>
<use href="#car" x="623.30" y="396.00" fill="#e8600f"/>
<use href="#car" x="636.00" y="396.00" fill="#e8600f"/>
<use href="#car" x="597.90" y="404.80" fill="#e8600f"/>
<use href="#car" x="610.60" y="404.80" fill="#e8600f"/>
<use href="#car" x="623.30" y="404.80" fill="#e8600f"/>
<text x="564" y="242" font-size="14" font-weight="bold" fill="#fff" text-anchor="middle" textLength="24.5" lengthAdjust="spacingAndGlyphs">442</text>
<text x="564.2" y="251.8" font-size="6" font-weight="bold" fill="#fff" text-anchor="middle" textLength="35.7" lengthAdjust="spacingAndGlyphs">Colombianos</text>
<text x="564.2" y="260.6" font-size="6" font-weight="bold" fill="#fff" text-anchor="middle" textLength="17.2" lengthAdjust="spacingAndGlyphs">al año</text>
<text x="564.8" y="320.5" font-size="14.5" fill="#555" text-anchor="middle" textLength="15.9" lengthAdjust="spacingAndGlyphs">92</text>
<text x="565.3" y="331.2" font-size="6.3" fill="#666" text-anchor="middle" textLength="40.6" lengthAdjust="spacingAndGlyphs">Hogares al año</text>
<text x="564.6" y="386.5" font-size="14" font-weight="bold" fill="#fff" text-anchor="middle" textLength="22.7" lengthAdjust="spacingAndGlyphs">168</text>
<text x="564" y="397.7" font-size="6" font-weight="bold" fill="#fff" text-anchor="middle" textLength="33" lengthAdjust="spacingAndGlyphs">Vehiculos al</text>
<text x="564" y="405.5" font-size="6" font-weight="bold" fill="#fff" text-anchor="middle">año</text>
<text x="679.8" y="222.2" font-size="6" font-weight="bold" fill="#fff" text-anchor="middle" textLength="35.3" lengthAdjust="spacingAndGlyphs">Colombianos</text>
<text x="677.1" y="295.5" font-size="6" font-weight="bold" fill="#fff" text-anchor="middle" textLength="24" lengthAdjust="spacingAndGlyphs">Hogares</text>
<text x="678.8" y="373.1" font-size="6" font-weight="bold" fill="#fff" text-anchor="middle" textLength="28" lengthAdjust="spacingAndGlyphs">Vehiculos</text>
<text x="655.9" y="240.40" font-size="6.3" fill="#8a8a8a" textLength="40.3" lengthAdjust="spacingAndGlyphs">Un colombiano</text>
<text x="655.9" y="248.00" font-size="6.3" fill="#8a8a8a" textLength="46.6" lengthAdjust="spacingAndGlyphs">promedio genera</text>
<text x="655.9" y="256.80" font-size="6.3" font-weight="bold" fill="#444" textLength="45.8" lengthAdjust="spacingAndGlyphs">1.6 toneladas de</text>
<text x="655.9" y="264.10" font-size="6.3" font-weight="bold" fill="#444" textLength="33.1" lengthAdjust="spacingAndGlyphs">CO2e al año</text>
<text x="653.1" y="308.90" font-size="6.3" fill="#fff" textLength="33" lengthAdjust="spacingAndGlyphs">El consumo</text>
<text x="653.1" y="317.40" font-size="6.3" fill="#fff" textLength="28" lengthAdjust="spacingAndGlyphs">energético</text>
<text x="653.1" y="325.90" font-size="6.3" fill="#fff" textLength="42" lengthAdjust="spacingAndGlyphs">promedio en un</text>
<text x="653.1" y="333.3" font-size="6.3" fill="#fff" textLength="36" lengthAdjust="spacingAndGlyphs">hogar genera</text><text x="690.5" y="333.3" font-size="6.3" fill="#fff" font-weight="bold" textLength="12" lengthAdjust="spacingAndGlyphs">7.67</text>
<text x="653.1" y="341.90" font-size="6.3" font-weight="bold" fill="#fff" textLength="36" lengthAdjust="spacingAndGlyphs">toneladas de</text>
<text x="653.1" y="349.80" font-size="6.3" font-weight="bold" fill="#fff" textLength="37" lengthAdjust="spacingAndGlyphs">CO2e  al año.</text>
<text x="655" y="391.20" font-size="6.3" fill="#8a8a8a" textLength="45.8" lengthAdjust="spacingAndGlyphs">Cada vehiculo en</text>
<text x="655" y="399.00" font-size="6.3" fill="#8a8a8a" textLength="46.6" lengthAdjust="spacingAndGlyphs">promedio genera</text>
<text x="655" y="407.50" font-size="6.3" font-weight="bold" fill="#444" textLength="46" lengthAdjust="spacingAndGlyphs">4.2 toneladas de</text>
<text x="655" y="415.10" font-size="6.3" font-weight="bold" fill="#444" textLength="33.1" lengthAdjust="spacingAndGlyphs">CO2e al año</text>
<text x="528.7" y="176.7" font-size="22" font-weight="bold" fill="#1d2a55" stroke="#1d2a55" stroke-width="0.7" textLength="108" lengthAdjust="spacingAndGlyphs">EQUIVALENCIAS</text>
<text x="529.5" y="190.2" font-size="14" fill="#6db033" stroke="#6db033" stroke-width="0.55" textLength="108.3" lengthAdjust="spacingAndGlyphs">DE EMISIONES</text>
<path d="M655 189.5 C648 189.5 647.5 179 653 176.5 C651 170 657 165.5 661 167 C662 158 673 154 680 158 C684 160 686 164 686 167 C692 165 698 168 699 173 C708 172 710 189.5 701 189.5 Z" fill="none" stroke="#6cc04a" stroke-width="2.7" stroke-linejoin="round"/>
<path d="M689.5 169 C689 163 694 158 703 157.3 C703 164 698 169.5 689.5 169Z" fill="#2e9e48"/>
<text x="667.6" y="176.5" font-size="10.5" font-weight="bold" fill="#2a9a4a" textLength="17.5" lengthAdjust="spacingAndGlyphs">CO</text>
<text x="684.6" y="177.8" font-size="5" font-weight="bold" fill="#2a9a4a">2</text>
<text x="662.2" y="186" font-size="6.3" font-weight="bold" fill="#2a9a4a" textLength="33.6" lengthAdjust="spacingAndGlyphs">reduction</text>
<path d="M665.0 193.5 H667.4 V200 H669.5 L666.2 206.8 L662.9 200 H665.0Z" fill="#2a9a4a"/>
<path d="M675.8 193.5 H678.2 V200 H680.3 L677.0 206.8 L673.7 200 H675.8Z" fill="#2a9a4a"/>
<path d="M686.9 193.5 H689.3 V200 H691.4 L688.1 206.8 L684.8 200 H686.9Z" fill="#2a9a4a"/>
</svg>
<!--/RIGHT-->
</body></html>
